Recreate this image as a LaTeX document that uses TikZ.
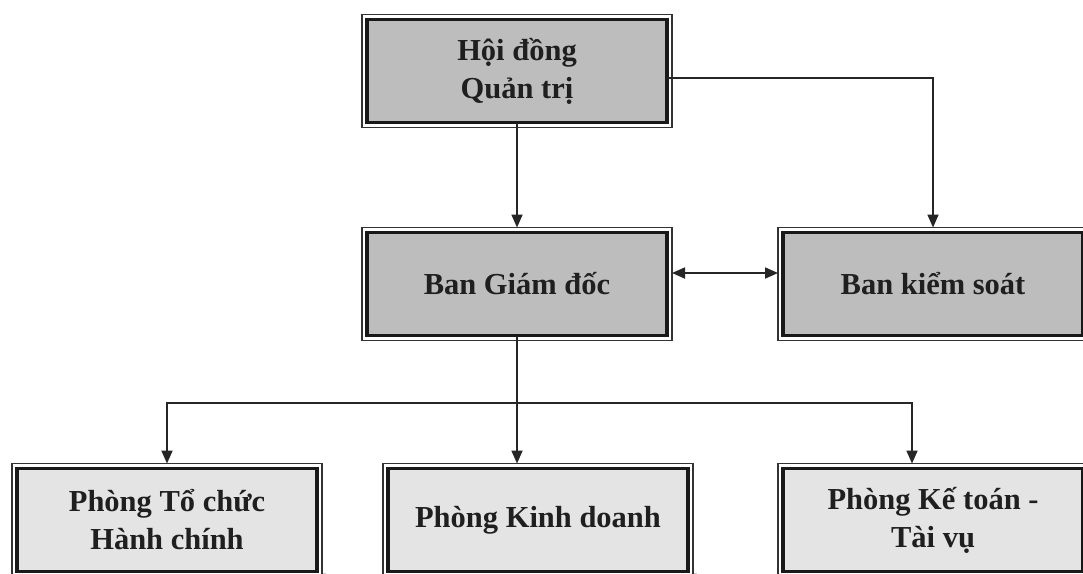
\documentclass[tikz,border=0pt]{standalone}
\usepackage{fontspec}
\setmainfont{Liberation Serif}
\usetikzlibrary{arrows.meta,backgrounds}
\definecolor{boxdark}{HTML}{BDBDBD}
\definecolor{boxlight}{HTML}{E4E4E4}
\definecolor{shade}{HTML}{CFCFCF}
\tikzset{
  orgbox/.style={draw=black!90, line width=3.5pt, minimum width=300pt, minimum height=103pt,
    inner sep=0pt, outer sep=0pt, align=center,
    font=\fontsize{30.5}{38}\selectfont\bfseries, text=black!88},
  topbox/.style={orgbox, fill=boxdark},
  lowbox/.style={orgbox, fill=boxlight},
  conn/.style={draw=black!85, line width=1.8pt, shorten >=5pt,
    -{Triangle[length=13pt,width=11pt]}},
  plainline/.style={draw=black!85, line width=1.8pt},
  framebox/.style={draw=black!80, line width=1.2pt},
  shadowbox/.style={fill=shade, draw=none}
}
\begin{document}
\begin{tikzpicture}[x=1pt,y=-1pt]
\useasboundingbox (0,0) rectangle (1083,573);
\clip (0,0) rectangle (1083,573);
\fill[white] (0,0) rectangle (1083,573);

\node[topbox] (hdqt) at (517,71) {Hội đồng\\Quản trị};
\node[topbox] (bgd) at (517,284) {Ban Giám đốc};
\node[topbox] (bks) at (933,284) {Ban kiểm soát};
\node[lowbox] (ptc) at (167,520) {Phòng Tổ chức\\Hành chính};
\node[lowbox] (pkd) at (538,520) {Phòng Kinh doanh};
\node[lowbox] (pkt) at (933,520) {Phòng Kế toán -\\Tài vụ};

\begin{scope}[on background layer]
\foreach \n in {hdqt,bgd,bks,ptc,pkd,pkt}{
  \fill[shadowbox] ([shift={(-2pt,2pt)}]\n.north west) rectangle ([shift={(9pt,-9pt)}]\n.south east);
  \fill[white] ([shift={(-5pt,5pt)}]\n.north west) rectangle ([shift={(5pt,-5pt)}]\n.south east);
}
\end{scope}
\foreach \n in {hdqt,bgd,bks,ptc,pkd,pkt}{
  \draw[framebox] ([shift={(-5pt,5pt)}]\n.north west) rectangle ([shift={(5pt,-5pt)}]\n.south east);
}

\coordinate (j) at (517,403);
\coordinate (r) at (912,403);

\draw[conn] (hdqt.south) -- (bgd.north);
\draw[conn] ([yshift=-7pt]hdqt.east) -| (bks.north);
\draw[conn, {Triangle[length=13pt,width=11pt]}-{Triangle[length=13pt,width=11pt]}, shorten <=5pt]
  ([yshift=11pt]bgd.east) -- ([yshift=11pt]bks.west);
\draw[plainline] (bgd.south) -- (j);
\draw[conn] (j) -| (ptc.north);
\draw[conn] (j) -- (j |- pkd.north);
\draw[conn] (j) -| (r |- pkt.north);
\end{tikzpicture}
\end{document}
